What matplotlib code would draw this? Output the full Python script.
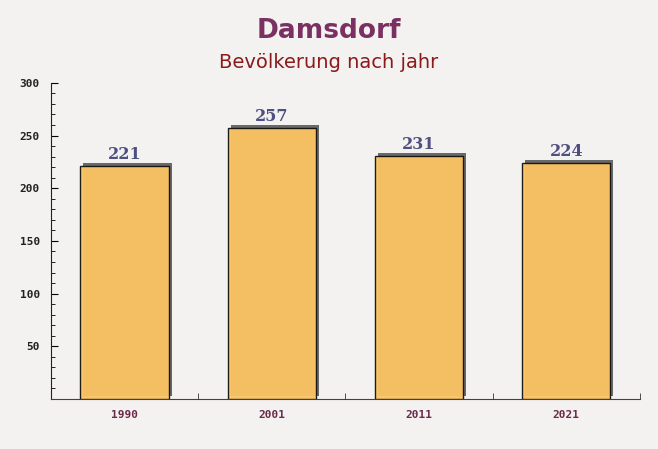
import matplotlib.pyplot as plt
import matplotlib.transforms as mtransforms
from matplotlib.ticker import MultipleLocator

# Daten
jahre = ['1990', '2001', '2011', '2021']
einwohner = [221, 257, 231, 224]

fig = plt.figure(figsize=(6.58, 4.49), dpi=100)
fig.patch.set_facecolor('#f4f1f1')
ax = fig.add_axes([0.0775, 0.1114, 0.895, 0.704])
ax.set_facecolor('none')

pos = list(range(len(jahre)))

# Schatten
schatten = mtransforms.offset_copy(ax.transData, fig=fig, x=3, y=3, units='dots')
ax.bar(pos, einwohner, width=0.6, color='#5a5a5a', alpha=0.9, transform=schatten, zorder=2)

# Balken
ax.bar(pos, einwohner, width=0.6, color='#fcc462', alpha=0.95, edgecolor='#111111',
       linewidth=1, zorder=3)

for x, v in zip(pos, einwohner):
    ax.annotate(str(v), (x, v), xytext=(0, 2), textcoords='offset points',
                ha='center', va='bottom', fontsize=11.5, fontweight='bold',
                color='#4d5080', family='DejaVu Serif', zorder=4)

ax.set_xlim(-0.5, 3.5)
ax.set_ylim(0, 300)

ax.set_xticks(pos)
ax.set_xticklabels(jahre)
ax.set_xticks([p + 0.5 for p in pos], minor=True)
ax.tick_params(axis='x', which='major', length=0, pad=8, labelsize=8, labelcolor='#6b2a4a')
ax.tick_params(axis='x', which='minor', length=4, direction='in', color='#333333')

ax.yaxis.set_major_locator(MultipleLocator(50))
ax.yaxis.set_minor_locator(MultipleLocator(10))
ax.set_yticks([50, 100, 150, 200, 250, 300])
ax.tick_params(axis='y', which='major', length=5, direction='in', pad=8, labelsize=8,
               labelcolor='#222222')
ax.tick_params(axis='y', which='minor', length=3, direction='in')

for lbl in ax.get_xticklabels() + ax.get_yticklabels():
    lbl.set_family('DejaVu Sans Mono')
    lbl.set_fontweight('bold')

ax.spines['top'].set_visible(False)
ax.spines['right'].set_visible(False)
ax.spines['left'].set_color('#222222')
ax.spines['bottom'].set_color('#6b2a4a')

fig.text(0.5, 0.93, 'Damsdorf', ha='center', va='center', fontsize=19,
         fontweight='bold', color='#7a3060')
fig.text(0.5, 0.86, 'Bevölkerung nach jahr', ha='center', va='center', fontsize=14,
         color='#8b1a1a')

fig.savefig('out.png', dpi=100, facecolor=fig.get_facecolor())
